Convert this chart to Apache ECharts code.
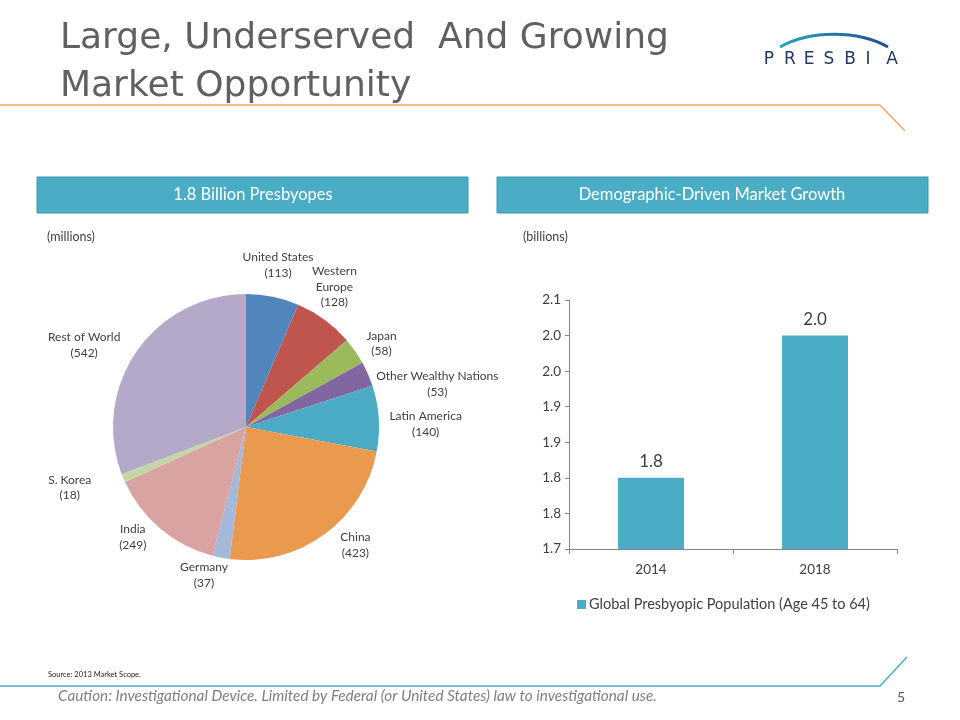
<!DOCTYPE html>
<html>
<head>
<meta charset="utf-8">
<script src="https://cdn.jsdelivr.net/npm/echarts@6/dist/echarts.min.js"></script>
<style>
html,body{margin:0;padding:0;background:#fff;}
#chart{width:960px;height:720px;}
</style>
</head>
<body>
<div id="chart"></div>
<script>
// ---- data ----
const pieCategories = ['United States','Western\nEurope','Japan','Other Wealthy Nations','Latin America','China','Germany','India','S. Korea','Rest of World'];
const pieValues = [113, 128, 58, 53, 140, 423, 37, 249, 18, 542];
const years = ['2014', '2018'];
const popValues = [1.80, 2.00];
const yTickLabels = ['1.7','1.8','1.8','1.9','1.9','2.0','2.0','2.1'];
const seriesName = 'Global Presbyopic Population (Age 45 to 64)';

// ---- layout / style ----
const pieColors = ['#5285BC','#C0554E','#9BBA5C','#8166A1','#4BABC5','#E99A4F','#A6B8DA','#D9A3A1','#C3D7A4','#B4A9C9'];
const pieCenter = [246, 427];
const pieRadius = 133;
const labelBaseDist = 165;
const labelNudge = [[-1,0],[-9,-7],[0,11],[40,23],[15,8],[12,-15],[-11,-14],[-7,-16],[-24,-3],[-26,12]];
const fontBody = 'Lato, "Open Sans", sans-serif';

const total = pieValues.reduce((a, b) => a + b, 0);
const midAngles = [];
{ let acc = 0; pieValues.forEach(v => { midAngles.push((acc + v / 2) / total * 2 * Math.PI); acc += v; }); }

const chart = echarts.init(document.getElementById('chart'), null, {renderer: 'canvas'});

const presbia = 'PRESBIA'.split('');
const graphics = [
  {type:'text', left:60, top:21, style:{text:'Large, Underserved  And Growing', font:'36px "DejaVu Sans", sans-serif', fill:'#606060'}},
  {type:'text', left:60, top:69, style:{text:'Market Opportunity', font:'36px "DejaVu Sans", sans-serif', fill:'#606060'}},
  {type:'polyline', shape:{points:[[0,105],[880,105],[905,131]]}, style:{stroke:'#F3A968', lineWidth:1.5, fill:null}},
  {type:'polyline', shape:{points:[[0,686],[880,686],[907,657]]}, style:{stroke:'#4BACC6', lineWidth:1.5, fill:null}},
  {type:'bezierCurve', shape:{x1:780, y1:47, x2:888, y2:47, cpx1:810, cpy1:30, cpx2:858, cpy2:30},
    style:{stroke:new echarts.graphic.LinearGradient(0,0,1,0,[{offset:0,color:'#2BA3C0'},{offset:1,color:'#1F4E8C'}]), lineWidth:3, fill:null}},
  {type:'rect', shape:{x:37, y:177, width:431, height:36}, style:{fill:'#4BACC6', stroke:'#3F95AD', lineWidth:1}},
  {type:'rect', shape:{x:497, y:177, width:431, height:36}, style:{fill:'#4BACC6', stroke:'#3F95AD', lineWidth:1}},
  {type:'text', x:253, y:195, style:{text:'1.8 Billion Presbyopes', font:'16.5px ' + fontBody, fill:'#FFFFFF', align:'center', verticalAlign:'middle'}},
  {type:'text', x:712, y:195, style:{text:'Demographic-Driven Market Growth', font:'16.5px ' + fontBody, fill:'#FFFFFF', align:'center', verticalAlign:'middle'}},
  {type:'text', left:47, top:230, style:{text:'(millions)', font:'12.5px ' + fontBody, fill:'#404040'}},
  {type:'text', left:523, top:230, style:{text:'(billions)', font:'12.5px ' + fontBody, fill:'#404040'}},
  {type:'text', left:48, top:671, style:{text:'Source: 2013 Market Scope.', font:'7.5px ' + fontBody, fill:'#222'}},
  {type:'text', left:58, top:689, style:{text:'Caution: Investigational Device. Limited by Federal (or United States) law to investigational use.', font:'italic 15.3px ' + fontBody, fill:'#7F7F7F'}},
  {type:'text', left:897, top:690, style:{text:'5', font:'14px ' + fontBody, fill:'#595959'}}
];
const letterX = [769, 790, 809, 829, 850, 868, 892];
presbia.forEach((ch, i) => {
  graphics.push({type:'text', x:letterX[i], y:60, style:{text:ch, font:'17px "DejaVu Sans", sans-serif', fill:'#1F3864', align:'center', verticalAlign:'middle'}});
});

const option = {
  animation: false,
  backgroundColor: '#FFFFFF',
  graphic: graphics,
  grid: {left: 569, right: 63, top: 300, bottom: 171},
  legend: {
    data: [seriesName],
    left: 572, top: 592,
    itemWidth: 9, itemHeight: 9, icon: 'rect', itemGap: 5,
    textStyle: {fontFamily: fontBody, fontSize: 14.5, color: '#404040', padding: [0,0,0,-2]}
  },
  xAxis: {
    type: 'category', data: years,
    axisLine: {lineStyle: {color: '#868686'}},
    axisTick: {show: true, length: 5, lineStyle: {color: '#868686'}},
    axisLabel: {fontFamily: fontBody, fontSize: 13.5, color: '#404040', margin: 14}
  },
  yAxis: {
    type: 'value', min: 1.7, max: 2.05, interval: 0.05,
    axisLine: {show: true, lineStyle: {color: '#868686'}},
    axisTick: {show: true, length: 4, lineStyle: {color: '#868686'}},
    splitLine: {show: false},
    axisLabel: {
      fontFamily: fontBody, fontSize: 13.5, color: '#404040', margin: 8,
      formatter: v => yTickLabels[Math.round((v - 1.7) / 0.05)]
    }
  },
  series: [
    {
      type: 'pie',
      center: pieCenter,
      radius: pieRadius,
      startAngle: 90,
      clockwise: true,
      color: pieColors,
      data: pieCategories.map((n, i) => ({name: n, value: pieValues[i]})),
      label: {
        show: true, position: 'outside',
        formatter: p => p.name + '\n(' + p.value + ')',
        fontFamily: fontBody, fontSize: 12, lineHeight: 15.5, color: '#404040'
      },
      labelLine: {show: false},
      labelLayout: function (params) {
        const i = params.dataIndex;
        const a = midAngles[i];
        return {
          x: pieCenter[0] + labelBaseDist * Math.sin(a) + labelNudge[i][0],
          y: pieCenter[1] - labelBaseDist * Math.cos(a) + labelNudge[i][1],
          align: 'center', verticalAlign: 'middle'
        };
      },
      itemStyle: {borderWidth: 0},
      emphasis: {disabled: true}
    },
    {
      type: 'bar',
      name: seriesName,
      data: popValues,
      barWidth: 66,
      itemStyle: {color: '#4BACC6'},
      label: {
        show: true, position: 'top', distance: 8,
        formatter: p => p.value.toFixed(1),
        fontFamily: fontBody, fontSize: 17, color: '#404040'
      }
    }
  ]
};
chart.setOption(option);
</script>
</body>
</html>
